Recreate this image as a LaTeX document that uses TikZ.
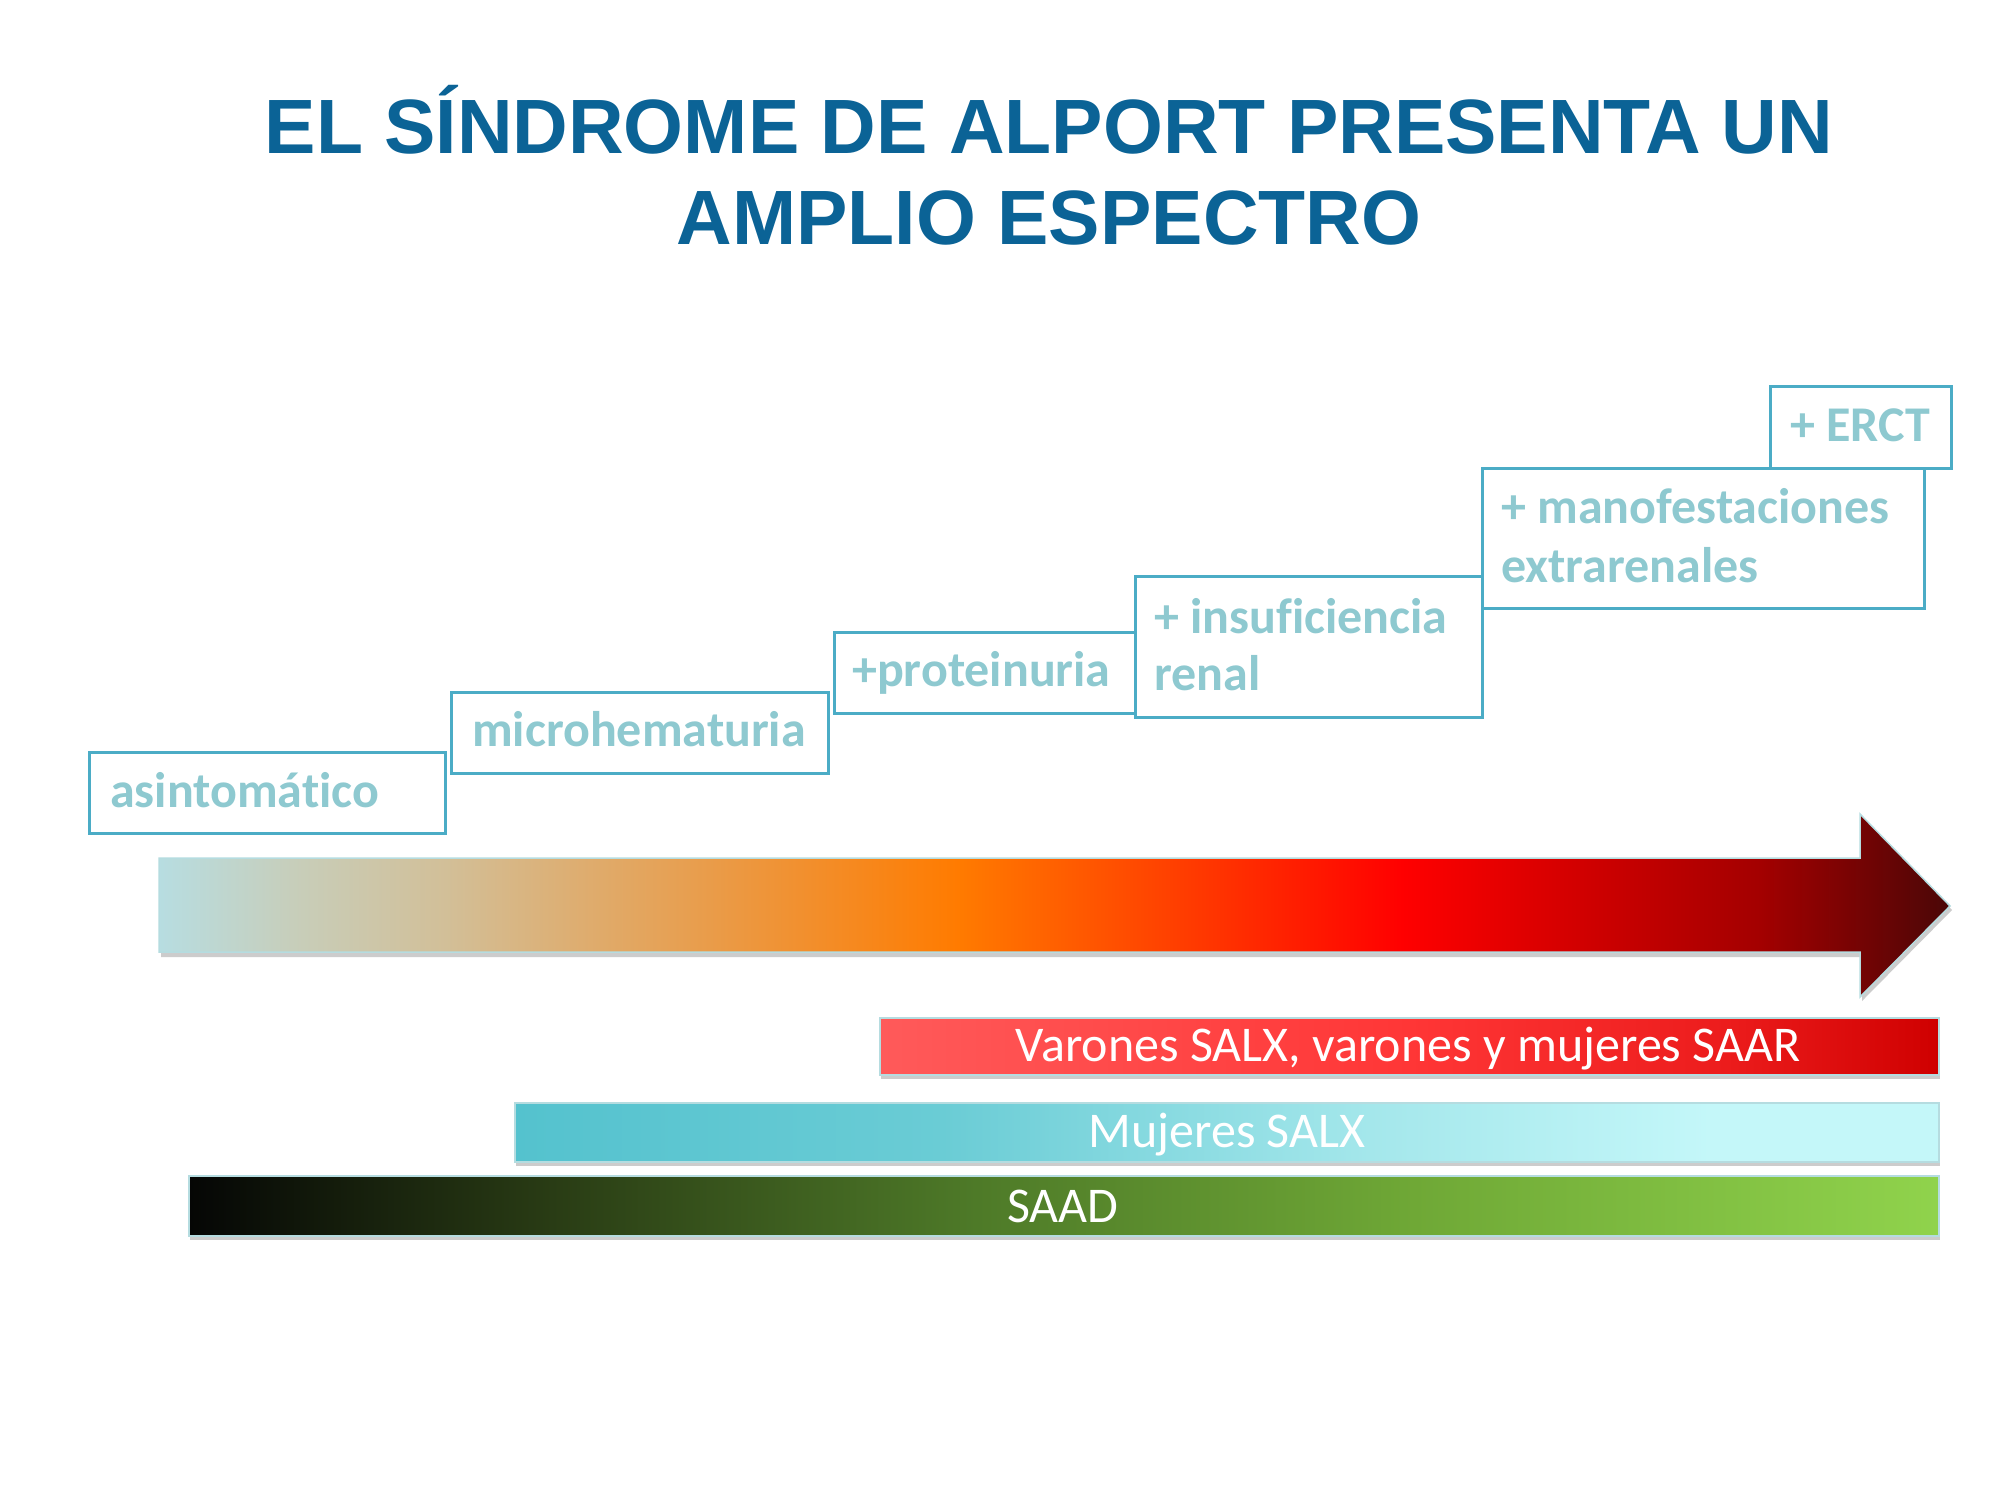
\documentclass[tikz,border=0pt]{standalone}
\usepackage{fontspec}
\setmainfont{Carlito}[Ligatures=NoCommon]
\newfontfamily\titlefont{Liberation Sans}
\definecolor{titleblue}{HTML}{0B6396}
\definecolor{boxline}{HTML}{4BACC6}
\definecolor{boxtext}{HTML}{8EC9D0}
\definecolor{arA}{HTML}{B7DDE1}
\definecolor{arB}{HTML}{C8CDB8}
\definecolor{arC}{HTML}{D2BF98}
\definecolor{arD}{HTML}{FF7B00}
\definecolor{arE}{HTML}{FF0000}
\definecolor{arF}{HTML}{A30000}
\definecolor{arG}{HTML}{4A0707}
\definecolor{rdA}{HTML}{FF5A5A}
\definecolor{rdB}{HTML}{FF3636}
\definecolor{rdC}{HTML}{EC1C1C}
\definecolor{rdD}{HTML}{CF0000}
\definecolor{cyA}{HTML}{54C2CE}
\definecolor{cyB}{HTML}{6ACCD5}
\definecolor{cyC}{HTML}{A4E7EB}
\definecolor{cyD}{HTML}{C4F7F9}
\definecolor{grA}{HTML}{050605}
\definecolor{grB}{HTML}{283A14}
\definecolor{grC}{HTML}{4E7A28}
\definecolor{grD}{HTML}{6FA836}
\definecolor{grE}{HTML}{90D34C}
\definecolor{edge}{HTML}{B5DCE0}
\pgfdeclarehorizontalshading{arrowshade}{100bp}{color(0bp)=(arA); color(25bp)=(arA); color(29bp)=(arB); color(33bp)=(arC); color(47.3bp)=(arD); color(59.7bp)=(arE); color(69.7bp)=(arF); color(75bp)=(arG); color(100bp)=(arG)}
\pgfdeclarehorizontalshading{redshade}{100bp}{color(0bp)=(rdA); color(25bp)=(rdA); color(50bp)=(rdB); color(65bp)=(rdC); color(75bp)=(rdD); color(100bp)=(rdD)}
\pgfdeclarehorizontalshading{cyanshade}{100bp}{color(0bp)=(cyA); color(25bp)=(cyA); color(40bp)=(cyB); color(55bp)=(cyC); color(67bp)=(cyD); color(75bp)=(cyD); color(100bp)=(cyD)}
\pgfdeclarehorizontalshading{greenshade}{100bp}{color(0bp)=(grA); color(25bp)=(grA); color(35bp)=(grB); color(47.5bp)=(grC); color(60bp)=(grD); color(75bp)=(grE); color(100bp)=(grE)}
\tikzset{
  stepbox/.style={draw=boxline, line width=2.5pt, fill=white, anchor=north west, inner sep=0pt},
  steptext/.style={text=boxtext, font=\bfseries\fontsize{50}{58}\selectfont, anchor=base west, inner sep=0pt},
  barbox/.style={draw=edge, line width=1.5pt, anchor=north west, inner sep=0pt},
  bartext/.style={text=white, font=\fontsize{50}{58}\selectfont, anchor=base, inner sep=0pt},
  titletext/.style={text=titleblue, font=\titlefont\bfseries\fontsize{77}{91}\selectfont, anchor=base, inner sep=0pt},
  shadowfill/.style={fill=black!20}
}
\begin{document}
\begin{tikzpicture}[x=1pt,y=-1pt]
\fill[white] (0,0) rectangle (2000,1500);
\useasboundingbox (0,0) rectangle (2000,1500);
% title
\node[titletext] (title1) at (1049,153) {EL SÍNDROME DE ALPORT PRESENTA UN};
\node[titletext] (title2) at (1049,244) {AMPLIO ESPECTRO};
% step boxes
\node[stepbox, minimum width=356pt, minimum height=81pt] (b1) at (88,751) {};
\node[stepbox, minimum width=377pt, minimum height=81pt] (b2) at (450,691) {};
\node[stepbox, minimum width=301pt, minimum height=81pt] (b3) at (833,631) {};
\node[stepbox, minimum width=347pt, minimum height=141pt] (b4) at (1134,575) {};
\node[stepbox, minimum width=442pt, minimum height=140pt] (b5) at (1481,467) {};
\node[stepbox, minimum width=181pt, minimum height=82pt] (b6) at (1769,385) {};
\node[steptext] (t1) at (110,807) {asintomático};
\node[steptext] (t2) at (472,746) {microhematuria};
\node[steptext] (t3) at (852,686) {+proteinuria};
\node[steptext] (t4a) at (1154,633) {+ insuficiencia};
\node[steptext] (t4b) at (1154,690) {renal};
\node[steptext] (t5a) at (1501,523) {+ manofestaciones};
\node[steptext] (t5b) at (1501,582) {extrarenales};
\node[steptext] (t6) at (1790,441) {+ ERCT};
% big arrow
\fill[shadowfill] (161,862) -- (1862,862) -- (1862,818) -- (1952,910) -- (1862,1001) -- (1862,957) -- (161,957) -- cycle;
\shade[shading=arrowshade, draw=edge, line width=1.5pt] (159,858) -- (1860,858) -- (1860,814) -- (1950,906) -- (1860,997) -- (1860,952) -- (159,952) -- cycle;
% bars
\fill[shadowfill] (881,1021) rectangle (1940,1079);
\fill[shadowfill] (516,1106) rectangle (1940,1166);
\fill[shadowfill] (190,1179) rectangle (1940,1240);
\node[barbox, shade, shading=redshade, minimum width=1059pt, minimum height=57pt] (rbar) at (879,1017) {};
\node[barbox, shade, shading=cyanshade, minimum width=1424pt, minimum height=59pt] (cbar) at (514,1102) {};
\node[barbox, shade, shading=greenshade, minimum width=1750pt, minimum height=60pt] (gbar) at (188,1175) {};
\node[bartext] (rlab) at (1408,1061) {Varones SALX, varones y mujeres SAAR};
\node[bartext] (clab) at (1227,1147) {Mujeres SALX};
\node[bartext] (glab) at (1063,1222) {SAAD};
\end{tikzpicture}
\end{document}
